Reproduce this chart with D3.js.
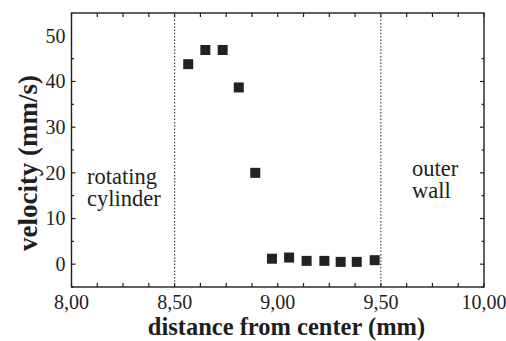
<!DOCTYPE html>
<html><head><meta charset="utf-8">
<script src="https://cdn.jsdelivr.net/npm/d3@7"></script>
<style>
html,body{margin:0;padding:0;background:#fff;}
svg{display:block;}
text{font-family:'Liberation Serif','Times New Roman',Times,serif;}
</style></head>
<body><svg id="c" width="506" height="341"></svg>
<script>
const distance = [8.566, 8.649, 8.733, 8.811, 8.891, 8.972, 9.055, 9.140, 9.226, 9.305, 9.383, 9.470];
const velocity = [43.8, 46.9, 46.9, 38.7, 20.0, 1.2, 1.45, 0.72, 0.72, 0.5, 0.5, 0.87];
const xTickLabels = ["8,00", "8,50", "9,00", "9,50", "10,00"];
const yTickLabels = ["0", "10", "20", "30", "40", "50"];
const boundaries = [8.5, 9.5];
const xTitle = "distance from center (mm)";
const yTitle = "velocity (mm/s)";

const FONT = "'Liberation Serif', 'Times New Roman', Times, serif";
const svg = d3.select("#c").attr("font-family", FONT);
const L = 71.5, R = 484, T = 13, B = 287;
const x = d3.scaleLinear().domain([8, 10]).range([L, R]);
const y = d3.scaleLinear().domain([-5, 55]).range([B, T]);
const ink = "#1e1e1e";

// frame
svg.append("rect").attr("x", L).attr("y", T).attr("width", R - L).attr("height", B - T)
  .attr("fill", "none").attr("stroke", ink).attr("stroke-width", 1.4);

// x ticks (every 0.125, inward, top and bottom)
const xt = d3.range(0, 17).map(i => 8 + i * 0.125);
xt.forEach(v => {
  svg.append("line").attr("x1", x(v)).attr("x2", x(v)).attr("y1", B).attr("y2", B - 4)
    .attr("stroke", ink).attr("stroke-width", 1.2);
  svg.append("line").attr("x1", x(v)).attr("x2", x(v)).attr("y1", T).attr("y2", T + 4)
    .attr("stroke", ink).attr("stroke-width", 1.2);
});
// y ticks (every 5, inward, left and right)
const yt = d3.range(0, 11).map(i => -5 + i * 5);
yt.forEach(v => {
  const major = v % 10 === 0;
  const len = major ? 4 : 2.5;
  svg.append("line").attr("x1", L).attr("x2", L + len).attr("y1", y(v)).attr("y2", y(v))
    .attr("stroke", ink).attr("stroke-width", 1.2);
  svg.append("line").attr("x1", R).attr("x2", R - len).attr("y1", y(v)).attr("y2", y(v))
    .attr("stroke", ink).attr("stroke-width", 1.2);
});

// tick labels
xTickLabels.forEach((t, i) => {
  svg.append("text").attr("x", x(8 + i * 0.5)).attr("y", 309)
    .attr("font-family", FONT)
    .attr("text-anchor", "middle").attr("font-size", 20).attr("fill", ink).text(t);
});
yTickLabels.forEach((t, i) => {
  svg.append("text").attr("x", 65.5).attr("y", y(i * 10)).attr("dy", "0.34em")
    .attr("font-family", FONT)
    .attr("text-anchor", "end").attr("font-size", 20).attr("fill", ink).text(t);
});

// dotted boundary lines
boundaries.forEach(b => {
  svg.append("line").attr("x1", x(b)).attr("x2", x(b)).attr("y1", T).attr("y2", B)
    .attr("stroke", "#444").attr("stroke-width", 1.2).attr("stroke-dasharray", "1.5,1.8");
});

// markers
const s = 10;
svg.selectAll("rect.pt").data(distance.map((d, i) => [d, velocity[i]])).enter()
  .append("rect").attr("class", "pt")
  .attr("x", d => x(d[0]) - s / 2).attr("y", d => y(d[1]) - s / 2)
  .attr("width", s).attr("height", s).attr("fill", "#222");

// annotations (one text element each, two lines)
const ann = (lines, xx, yy) => {
  const t = svg.append("text").attr("x", xx).attr("y", yy)
    .attr("font-family", FONT).attr("font-size", 22.5).attr("fill", ink);
  lines.forEach((s, i) => t.append("tspan").attr("x", xx).attr("y", yy + i * 22).text(s));
};
ann(["rotating", "cylinder"], 87, 183.5);
ann(["outer", "wall"], 412, 175.5);

// axis titles
svg.append("text").attr("x", 286.5).attr("y", 335).attr("text-anchor", "middle")
  .attr("font-family", FONT)
  .attr("font-size", 24.5).attr("font-weight", "bold").attr("fill", ink).text(xTitle);
svg.append("text").attr("transform", "translate(37,163) rotate(-90)").attr("text-anchor", "middle")
  .attr("font-family", FONT)
  .attr("font-size", 27).attr("font-weight", "bold").attr("fill", ink).text(yTitle);
</script></body></html>
